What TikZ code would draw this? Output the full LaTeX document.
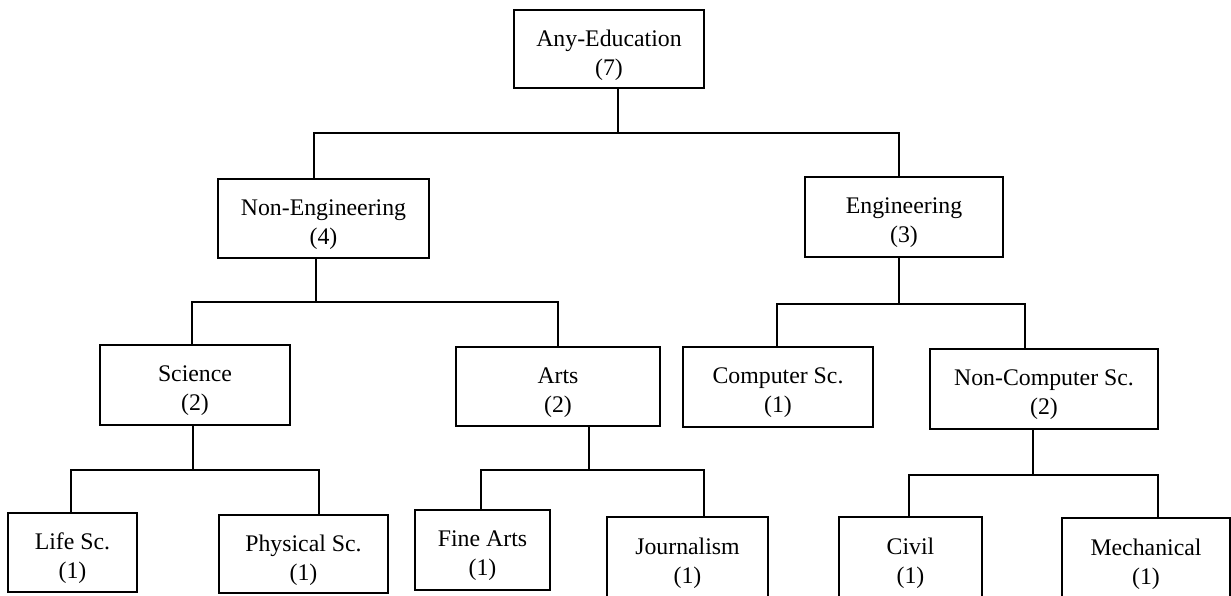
\documentclass[tikz,border=0pt]{standalone}
\usepackage{fontspec}
\setmainfont{Liberation Serif}
\usetikzlibrary{calc}
% a framed box (#1 name, #2 centre, #3 width, #4 height) with its two-line caption #5
\newcommand\treebox[5]{%
  \node[box, sz={#3}{#4}] (#1) at (#2) {};
  \node[caption] (#1-text) at ($(#1.center)+(0,6)$) {#5};}
\begin{document}
\begin{tikzpicture}[x=0.5pt,y=-0.5pt,
  box/.style={draw=black, line width=1pt, rectangle, inner sep=0pt},
  caption/.style={align=center, inner sep=0pt,
    font=\fontsize{11.9pt}{14.5pt}\selectfont},
  sz/.style n args={2}{minimum width=#1*0.5pt, minimum height=#2*0.5pt},
  link/.style={draw=black, line width=0.65pt}]
\useasboundingbox (0,0) rectangle (1231,595);
\clip (0,0) rectangle (1231,595);

% level 0
\treebox{root}{609,49}{190}{78}{Any-Education\\(7)}
% level 1
\treebox{noneng}{323.5,218.5}{211}{79}{Non-Engineering\\(4)}
\treebox{eng}{904,217}{198}{80}{Engineering\\(3)}
% level 2
\treebox{sci}{195,385}{190}{80}{Science\\(2)}
\treebox{arts}{558,386.5}{204}{79}{Arts\\(2)}
\treebox{comp}{778,387}{190}{80}{Computer Sc.\\(1)}
\treebox{noncomp}{1044,389}{228}{80}{Non-Computer Sc.\\(2)}
% level 3
\treebox{life}{72.5,552.5}{129}{79}{Life Sc.\\(1)}
\treebox{phys}{303.5,554}{169}{78}{Physical Sc.\\(1)}
\treebox{fine}{482.5,550}{135}{80}{Fine Arts\\(1)}
\treebox{journ}{687.5,557}{161}{80}{Journalism\\(1)}
\treebox{civil}{910.5,557}{143}{80}{Civil\\(1)}
\treebox{mech}{1146,558}{168}{80}{Mechanical\\(1)}

% elbow connectors: stem down from the parent, then across and down to each child
\draw[link] ($(root.south)+(9,0)$) -- ++(0,44) coordinate (j0);
\draw[link] (j0) -| ($(noneng.north)+(-9.5,0)$);
\draw[link] (j0) -| ($(eng.north)+(-5,0)$);

\draw[link] ($(noneng.south)+(-7.5,0)$) -- ++(0,43) coordinate (j1);
\draw[link] (j1) -| ($(sci.north)+(-3,0)$);
\draw[link] (j1) -| (arts.north);

\draw[link] ($(eng.south)+(-5,0)$) -- ++(0,46) coordinate (j2);
\draw[link] (j2) -| ($(comp.north)+(-1,0)$);
\draw[link] (j2) -| ($(noncomp.north)+(-19,0)$);

\draw[link] ($(sci.south)+(-2,0)$) -- ++(0,44) coordinate (j3);
\draw[link] (j3) -| ($(life.north)+(-1.5,0)$);
\draw[link] (j3) -| ($(phys.north)+(15.5,0)$);

\draw[link] ($(arts.south)+(31,0)$) -- ++(0,43) coordinate (j4);
\draw[link] (j4) -| ($(fine.north)+(-1.5,0)$);
\draw[link] (j4) -| ($(journ.north)+(16.5,0)$);

\draw[link] ($(noncomp.south)+(-11,0)$) -- ++(0,45) coordinate (j5);
\draw[link] (j5) -| ($(civil.north)+(-1.5,0)$);
\draw[link] (j5) -| ($(mech.north)+(12,0)$);
\end{tikzpicture}
\end{document}
